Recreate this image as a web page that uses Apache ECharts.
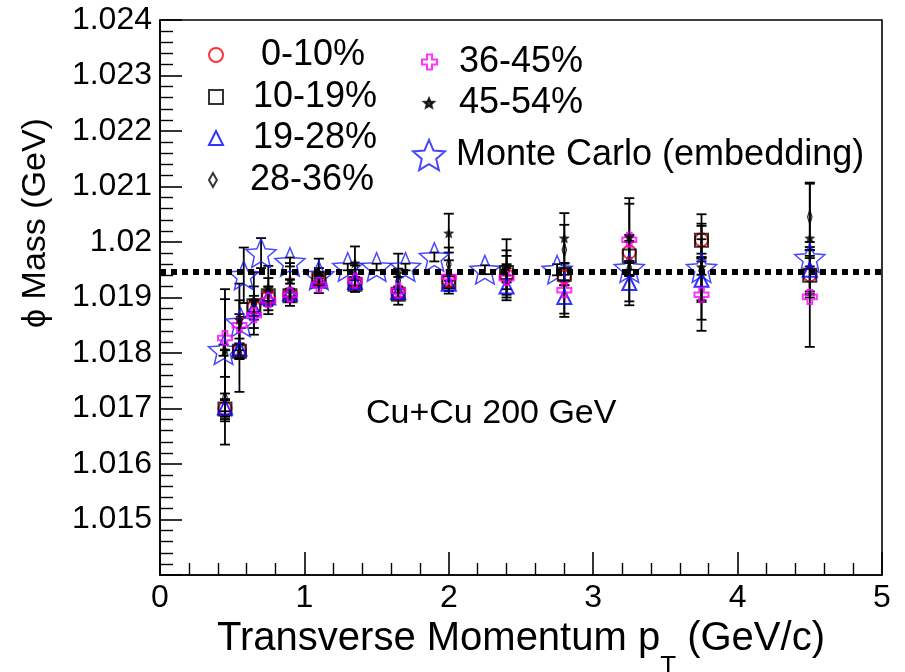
<!DOCTYPE html>
<html>
<head>
<meta charset="utf-8">
<script src="https://cdn.jsdelivr.net/npm/echarts@6/dist/echarts.min.js"></script>
<style>
html,body{margin:0;padding:0;background:#fff;}
#chart{width:905px;height:672px;}
</style>
</head>
<body>
<div id="chart"></div>
<script>
// ---------- data ----------
const pt = [0.45, 0.55, 0.65, 0.75, 0.9, 1.1, 1.35, 1.65, 2.0, 2.4, 2.8, 3.25, 3.75, 4.5];

const m0_10  = [1.01700, 1.01805, 1.01882, 1.01901, 1.01905, 1.01935, 1.01926, 1.01908, 1.01930, 1.01940, 1.01937, 1.01982, 1.02004, 1.01941];
const e0_10  = [0.00015, 0.00012, 0.00010, 0.00008, 0.00006, 0.00006, 0.00007, 0.00008, 0.00010, 0.00013, 0.00015, 0.00020, 0.00025, 0.00030];

const m10_19 = [1.01699, 1.01803, 1.01885, 1.01903, 1.01903, 1.01933, 1.01924, 1.01906, 1.01928, 1.01945, 1.01942, 1.01975, 1.02003, 1.01940];
const e10_19 = [0.00018, 0.00014, 0.00011, 0.00009, 0.00007, 0.00007, 0.00008, 0.00009, 0.00011, 0.00015, 0.00020, 0.00025, 0.00030, 0.00035];

const m19_28 = [1.01702, 1.01808, 1.01880, 1.01900, 1.01907, 1.01930, 1.01928, 1.01910, 1.01925, 1.01920, 1.01901, 1.01926, 1.01932, 1.01950];
const e19_28 = [0.00025, 0.00018, 0.00014, 0.00011, 0.00009, 0.00008, 0.00009, 0.00010, 0.00013, 0.00020, 0.00030, 0.00040, 0.00040, 0.00050];

const m28_36 = [1.01720, 1.01800, 1.01890, 1.01910, 1.01912, 1.01938, 1.01940, 1.01930, 1.01960, 1.01950, 1.01986, 1.01953, 1.01950, 1.02045];
const e28_36 = [0.00085, 0.00070, 0.00030, 0.00025, 0.00020, 0.00015, 0.00018, 0.00022, 0.00030, 0.00035, 0.00045, 0.00060, 0.00055, 0.00060];

const m36_45 = [1.01827, 1.01850, 1.01868, 1.01895, 1.01905, 1.01923, 1.01930, 1.01912, 1.01937, 1.01935, 1.01913, 1.02004, 1.01905, 1.01901];
const e36_45 = [0.00070, 0.00045, 0.00035, 0.00025, 0.00020, 0.00015, 0.00020, 0.00025, 0.00030, 0.00040, 0.00048, 0.00065, 0.00065, 0.00090];

const m45_54 = [1.01805, 1.01860, 1.01895, 1.01917, 1.01932, 1.01945, 1.01962, 1.01944, 1.02016, 1.01955, 1.02007, 1.02009, 1.01955, 1.02007];
const e45_54 = [0.00110, 0.00065, 0.00050, 0.00040, 0.00030, 0.00025, 0.00030, 0.00035, 0.00035, 0.00050, 0.00045, 0.00070, 0.00095, 0.00100];

const ptMC = [0.44, 0.56, 0.58, 0.70, 0.90, 1.10, 1.30, 1.50, 1.70, 1.90, 2.25, 2.75, 3.25, 3.75, 4.50];
const mMC  = [1.01805, 1.01855, 1.01940, 1.01980, 1.01964, 1.01940, 1.01955, 1.01955, 1.01955, 1.01973, 1.01950, 1.01950, 1.01953, 1.01953, 1.01971];
const eMC  = [0.00010, 0.00010, 0.00050, 0.00027, 0.00008, 0.00006, 0.00006, 0.00006, 0.00006, 0.00008, 0.00008, 0.00010, 0.00012, 0.00012, 0.00015];

const pdgMassX = [0, 5];
const pdgMassY = [1.019461, 1.019461];

const names = ['0-10%', '10-19%', '19-28%', '28-36%', '36-45%', '45-54%', 'Monte Carlo (embedding)'];
const yTicks = [1.014, 1.015, 1.016, 1.017, 1.018, 1.019, 1.020, 1.021, 1.022, 1.023, 1.024];

// ---------- helpers ----------
const FONT = 'Liberation Sans, Arial, Helvetica, sans-serif';
function zip3(xs, ys, es) { return xs.map((x, i) => [x, ys[i], es[i]]); }

const STAR = 'path://M0,-100L26.45,-36.4L95.1,-30.9L42.8,13.9L58.8,80.9L0,45L-58.8,80.9L-42.8,13.9L-95.1,-30.9L-26.45,-36.4Z';
const CROSS = 'path://M-10,-30H10V-10H30V10H10V30H-10V10H-30V-10H-10Z';
const DIAMOND = 'path://M0,-16L9,0L0,16L-9,0Z';

function errSeries(xs, ys, es, z) {
  return {
    type: 'custom',
    silent: true,
    z: z,
    data: zip3(xs, ys, es),
    encode: { x: 0, y: 1 },
    renderItem: function (params, api) {
      const x = api.value(0), y = api.value(1), e = api.value(2);
      const t = api.coord([x, y + e]);
      const b = api.coord([x, y - e]);
      const hw = 5;
      const st = { stroke: '#000', lineWidth: 1.8 };
      return {
        type: 'group',
        children: [
          { type: 'line', shape: { x1: t[0], y1: t[1], x2: b[0], y2: b[1] }, style: st },
          { type: 'line', shape: { x1: t[0] - hw, y1: t[1], x2: t[0] + hw, y2: t[1] }, style: st },
          { type: 'line', shape: { x1: b[0] - hw, y1: b[1], x2: b[0] + hw, y2: b[1] }, style: st }
        ]
      };
    }
  };
}

function markSeries(name, xs, ys, symbol, size, itemStyle, z) {
  return {
    type: 'scatter',
    name: name,
    z: z,
    symbol: symbol,
    symbolSize: size,
    symbolKeepAspect: true,
    itemStyle: itemStyle,
    emphasis: { disabled: true },
    data: xs.map((x, i) => [x, ys[i]])
  };
}

function legendItem(name, left, top, w, h, pad) {
  return {
    data: [name],
    left: left, top: top,
    orient: 'vertical',
    padding: 0,
    itemWidth: w, itemHeight: h,
    selectedMode: false,
    textStyle: { fontSize: 36, color: '#000', fontFamily: FONT, padding: [0, 0, 0, pad] }
  };
}

// ---------- chart ----------
const chart = echarts.init(document.getElementById('chart'), null, { renderer: 'canvas' });

const option = {
  animation: false,
  backgroundColor: '#fff',
  grid: {
    left: 160, right: 23, top: 20, bottom: 97,
    outerBoundsMode: 'none', containLabel: false,
    show: true, borderColor: '#000', borderWidth: 1.6, backgroundColor: 'transparent'
  },
  xAxis: {
    type: 'value', min: 0, max: 5, interval: 1,
    name: 'Transverse Momentum p{sub|T} (GeV/c)',
    nameLocation: 'middle', nameGap: 19,
    nameTextStyle: {
      fontSize: 40, color: '#000', fontFamily: FONT,
      rich: { sub: { fontSize: 26, color: '#000', fontFamily: FONT, padding: [56, 0, 0, 0] } }
    },
    axisLine: { show: true, onZero: false, lineStyle: { color: '#000', width: 1.6 } },
    axisTick: { show: true, inside: true, length: 23, lineStyle: { color: '#000', width: 1.6 } },
    minorTick: { show: true, splitNumber: 5, length: 12, lineStyle: { color: '#000', width: 1.4 } },
    splitLine: { show: false },
    axisLabel: { fontSize: 32, color: '#000', fontFamily: FONT, margin: 7 }
  },
  yAxis: {
    type: 'value', min: yTicks[0], max: yTicks[yTicks.length - 1], interval: 0.001,
    axisLine: { show: true, onZero: false, lineStyle: { color: '#000', width: 1.6 } },
    axisTick: { show: true, inside: true, length: 22, lineStyle: { color: '#000', width: 1.6 } },
    minorTick: { show: true, splitNumber: 5, length: 13, lineStyle: { color: '#000', width: 1.4 } },
    splitLine: { show: false },
    axisLabel: {
      fontSize: 32, color: '#000', fontFamily: FONT, margin: 8,
      formatter: function (v) {
        if (Math.abs(v - yTicks[0]) < 1e-9) return '';
        return String(parseFloat(v.toFixed(3)));
      }
    }
  },
  legend: [
    legendItem(names[0], 208, 37, 14, 14, 33),
    legendItem(names[1], 208, 79, 14, 14, 25),
    legendItem(names[2], 208, 120, 14, 14, 25),
    legendItem(names[3], 208, 162, 14, 14, 25),
    legendItem(names[4], 421, 44, 15, 15, 17),
    legendItem(names[5], 423, 85, 10, 10, 20),
    legendItem(names[6], 412, 137, 32, 32, 6)
  ],
  graphic: [
    {
      type: 'text', left: 366, top: 397, silent: true,
      style: { text: 'Cu+Cu 200 GeV', fontSize: 34, fill: '#000', fontFamily: FONT }
    },
    {
      type: 'text', rotation: Math.PI / 2, x: 36, y: 223, silent: true,
      style: { text: 'ϕ Mass (GeV)', fontSize: 34, fill: '#000', fontFamily: FONT, align: 'center', verticalAlign: 'middle' }
    }
  ],
  series: [
    errSeries(pt, m0_10, e0_10, 1),
    errSeries(pt, m10_19, e10_19, 1),
    errSeries(pt, m19_28, e19_28, 1),
    errSeries(pt, m28_36, e28_36, 1),
    errSeries(pt, m36_45, e36_45, 1),
    errSeries(pt, m45_54, e45_54, 1),
    errSeries(ptMC, mMC, eMC, 1),
    markSeries(names[6], ptMC, mMC, STAR, 30, { color: 'transparent', borderColor: '#1a1aff', borderWidth: 1.5 }, 2),
    markSeries(names[0], pt, m0_10, 'circle', 13, { color: 'transparent', borderColor: '#ff0000', borderWidth: 2 }, 3),
    markSeries(names[1], pt, m10_19, 'rect', 13, { color: 'transparent', borderColor: '#000', borderWidth: 2 }, 3),
    markSeries(names[2], pt, m19_28, 'triangle', 14, { color: 'transparent', borderColor: '#0000ff', borderWidth: 2 }, 3),
    markSeries(names[3], pt, m28_36, DIAMOND, [8, 14], { color: 'transparent', borderColor: '#000', borderWidth: 1.5 }, 3),
    markSeries(names[4], pt, m36_45, CROSS, 14, { color: 'transparent', borderColor: '#ff00ff', borderWidth: 2 }, 3),
    markSeries(names[5], pt, m45_54, STAR, 10, { color: '#000', borderColor: '#000', borderWidth: 0.5 }, 3),
    {
      type: 'line', silent: true, z: 4,
      data: pdgMassX.map((x, i) => [x, pdgMassY[i]]),
      symbol: 'none',
      lineStyle: { color: '#000', width: 6, type: [6, 5] }
    }
  ]
};
chart.setOption(option);
</script>
</body>
</html>
